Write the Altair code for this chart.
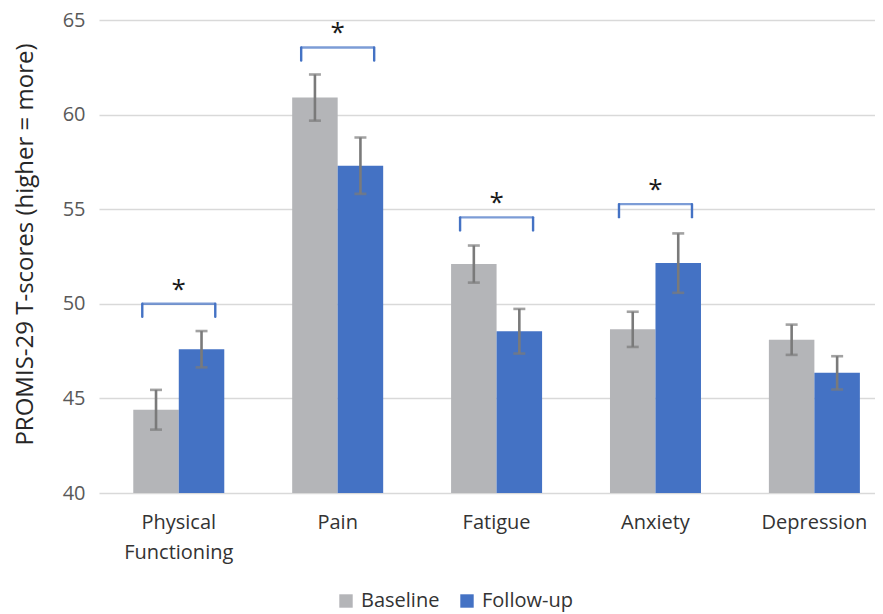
import altair as alt
import pandas as pd

categories = ["Physical Functioning", "Pain", "Fatigue", "Anxiety", "Depression"]
series = ["Baseline", "Follow-up"]
baseline = [44.4, 60.9, 52.1, 48.65, 48.1]
followup = [47.6, 57.3, 48.55, 52.15, 46.35]
baseline_err = [1.05, 1.22, 0.98, 0.93, 0.80]
followup_err = [0.96, 1.49, 1.18, 1.57, 0.88]
sig_categories = ["Physical Functioning", "Pain", "Fatigue", "Anxiety"]
bracket_top = [50.0, 63.55, 54.57, 55.27]
bracket_drop = 0.69
y_ticks = [40, 45, 50, 55, 60, 65]
y_min = 40
y_max = 65

rows = []
for i, c in enumerate(categories):
    for s, m, e in ((series[0], baseline[i], baseline_err[i]), (series[1], followup[i], followup_err[i])):
        rows.append({"category": c, "series": s, "mean": m, "lo": m - e, "hi": m + e})
df = pd.DataFrame(rows)

br = pd.DataFrame({
    "category": sig_categories,
    "top": bracket_top,
    "bot": [t - bracket_drop for t in bracket_top],
})

BLUE = "#4472C4"
GRAY = "#B4B5B8"
ERR = "#7A7A7A"

xscale = alt.Scale(domain=categories, paddingInner=0.4273, paddingOuter=0.1554, align=0.694, round=False)
x_enc = alt.X(
    "category:N",
    sort=categories,
    scale=xscale,
    axis=alt.Axis(
        title=None,
        labelAngle=0,
        labelExpr="datum.label == 'Physical Functioning' ? ['Physical', 'Functioning'] : datum.label",
        labelFontSize=20,
        labelColor="#333333",
        labelPadding=19,
        labelBaseline="top",
        labelLineHeight=30,
        domain=False,
        ticks=False,
        grid=False,
    ),
)
xoff = alt.XOffset("series:N", sort=series, scale=alt.Scale(domain=series, paddingInner=0, paddingOuter=0))
yscale = alt.Scale(domain=[y_min, y_max], nice=False, zero=False)

base = alt.Chart(df)

bars = base.mark_bar().encode(
    x=x_enc,
    xOffset=xoff,
    y=alt.Y(
        "mean:Q",
        scale=yscale,
        axis=alt.Axis(
            values=y_ticks,
            title="PROMIS-29 T-scores (higher = more)",
            titleFontSize=24,
            titleFontWeight="normal",
            titleColor="#262626",
            titleAngle=270,
            titleX=-74,
            titleY=224,
            titleAlign="center",
            titleBaseline="middle",
            labelFontSize=20,
            labelColor="#595959",
            labelPadding=14,
            gridColor="#D9D9D9",
            gridWidth=1.5,
            domain=False,
            ticks=False,
        ),
    ),
    y2=alt.datum(y_min),
    color=alt.Color(
        "series:N",
        sort=series,
        scale=alt.Scale(domain=series, range=[GRAY, BLUE]),
        legend=alt.Legend(
            orient="none",
            legendX=237,
            legendY=571,
            direction="horizontal",
            title=None,
            symbolType="square",
            symbolSize=180,
            symbolStrokeWidth=0,
            labelFontSize=20,
            labelColor="#333333",
            labelOffset=5,
            columnPadding=17,
        ),
    ),
)

err = base.mark_rule(color=ERR, strokeWidth=2.6).encode(
    x=alt.X("category:N", sort=categories), xOffset=xoff, y="lo:Q", y2="hi:Q"
)
cap_lo = base.mark_tick(color=ERR, thickness=2.6, size=12, orient="horizontal").encode(
    x=alt.X("category:N", sort=categories), xOffset=xoff, y="lo:Q"
)
cap_hi = base.mark_tick(color=ERR, thickness=2.6, size=12, orient="horizontal").encode(
    x=alt.X("category:N", sort=categories), xOffset=xoff, y="hi:Q"
)

bb = alt.Chart(br)
br_h = bb.mark_tick(color=BLUE, thickness=2.4, size=73, orient="horizontal").encode(
    x=alt.X("category:N", sort=categories), y="top:Q"
)
br_l = bb.mark_rule(color=BLUE, strokeWidth=2.4, strokeCap="round", xOffset=-36.5).encode(
    x=alt.X("category:N", sort=categories), y="top:Q", y2="bot:Q"
)
br_r = bb.mark_rule(color=BLUE, strokeWidth=2.4, strokeCap="round", xOffset=36.5).encode(
    x=alt.X("category:N", sort=categories), y="top:Q", y2="bot:Q"
)
stars = bb.mark_text(text="*", fontSize=26, dy=-6, baseline="alphabetic", color="#1a1a1a").encode(
    x=alt.X("category:N", sort=categories), y="top:Q"
)

chart = alt.layer(bars, err, cap_lo, cap_hi, br_h, br_l, br_r, stars).properties(
    width=776,
    height=473,
    padding={"left": 91, "top": 12, "right": 0, "bottom": 121},
    autosize=alt.AutoSizeParams(type="none"),
).configure(font="Open Sans").configure_view(stroke=None)

chart.save("out.html", embed_options={"renderer": "svg", "actions": False})
